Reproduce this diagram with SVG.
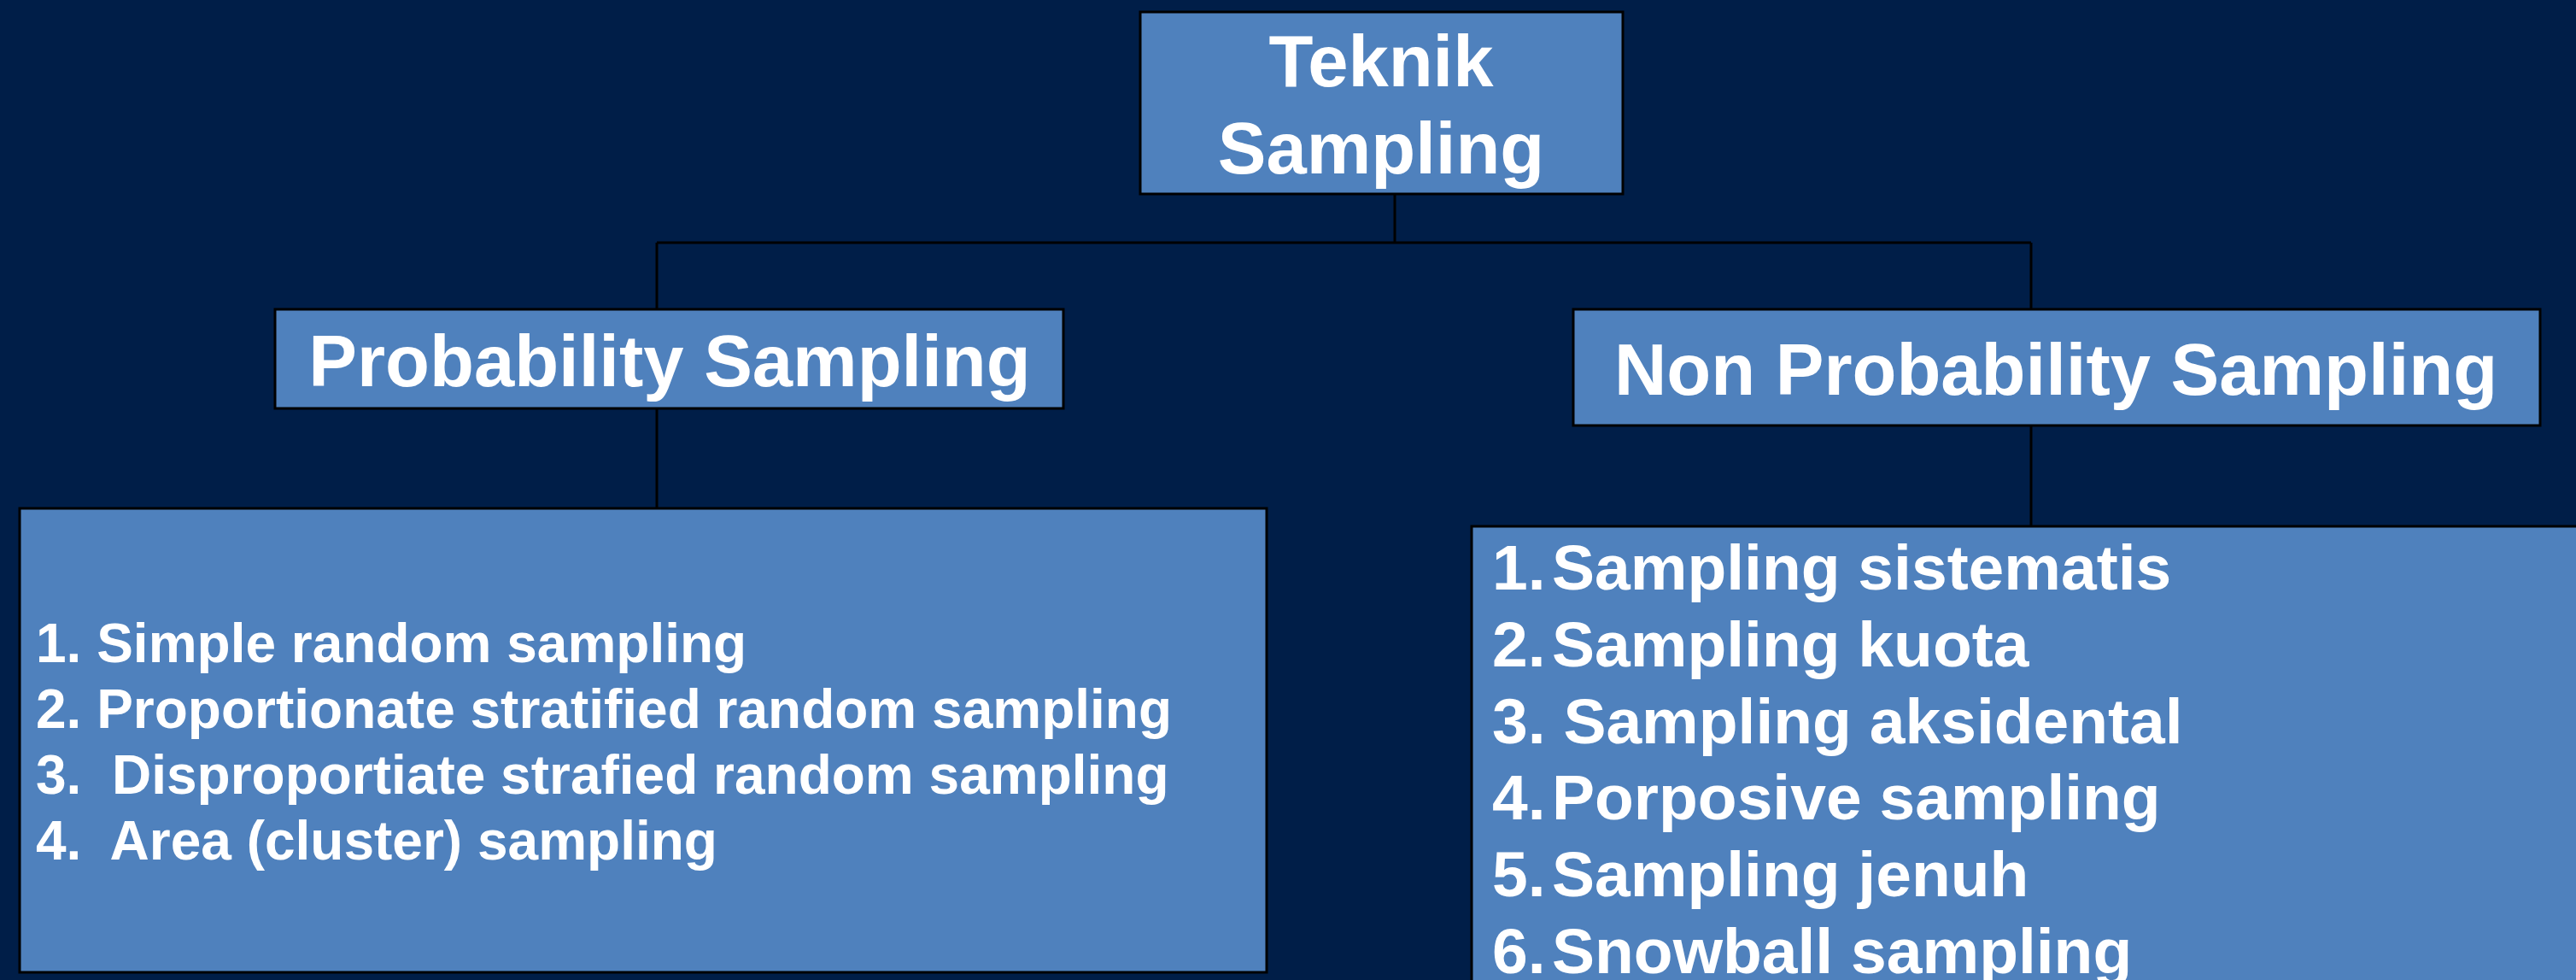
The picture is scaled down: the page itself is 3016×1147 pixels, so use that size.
<svg xmlns="http://www.w3.org/2000/svg" width="3016" height="1147" viewBox="0 0 3016 1147">
<style>
.box{fill:#4F81BD;stroke:#000;stroke-width:3}
.t{font-family:"Liberation Sans",Arial,sans-serif;font-weight:bold;fill:#fff}
.h{font-size:85px;text-anchor:middle}
.l{font-size:64px;white-space:pre}
.r{font-size:75px;white-space:pre}
.c{stroke:#000;stroke-width:3;fill:none}
</style>
<rect width="3016" height="1147" fill="#001E48"/>
<g id="connectors">
<path class="c" d="M1633 228V284M769 284H2378M769 284V362M769 478V595M2378 284V362M2378 498V616"/>
</g>
<g id="teknik-sampling">
<rect class="box" x="1335" y="14" width="565" height="213"/>
<text class="t h" x="1617" y="101">Teknik</text>
<text class="t h" x="1617" y="203">Sampling</text>
</g>
<g id="probability-sampling">
<rect class="box" x="322" y="362" width="923" height="116"/>
<text class="t h" x="784" y="452">Probability Sampling</text>
</g>
<g id="non-probability-sampling">
<rect class="box" x="1842" y="362" width="1132" height="136"/>
<text class="t h" x="2407" y="462">Non Probability Sampling</text>
</g>
<g id="probability-list">
<rect class="box" x="23" y="595" width="1460" height="543"/>
<text class="t l" x="42" y="775">1. Simple random sampling</text>
<text class="t l" x="42" y="852">2. Proportionate stratified random sampling</text>
<text class="t l" x="42" y="929">3.  Disproportiate strafied random sampling</text>
<text class="t l" x="42" y="1006">4.  Area (cluster) sampling</text>
</g>
<g id="non-probability-list">
<rect class="box" x="1723" y="616" width="1310" height="545"/>
<text class="t r" y="690"><tspan x="1747">1.</tspan><tspan x="1817">Sampling sistematis</tspan></text>
<text class="t r" y="780"><tspan x="1747">2.</tspan><tspan x="1817">Sampling kuota</tspan></text>
<text class="t r" x="1747" y="870">3. Sampling aksidental</text>
<text class="t r" y="959"><tspan x="1747">4.</tspan><tspan x="1817">Porposive sampling</tspan></text>
<text class="t r" y="1049"><tspan x="1747">5.</tspan><tspan x="1817">Sampling jenuh</tspan></text>
<text class="t r" y="1139"><tspan x="1747">6.</tspan><tspan x="1817">Snowball sampling</tspan></text>
</g>
</svg>
